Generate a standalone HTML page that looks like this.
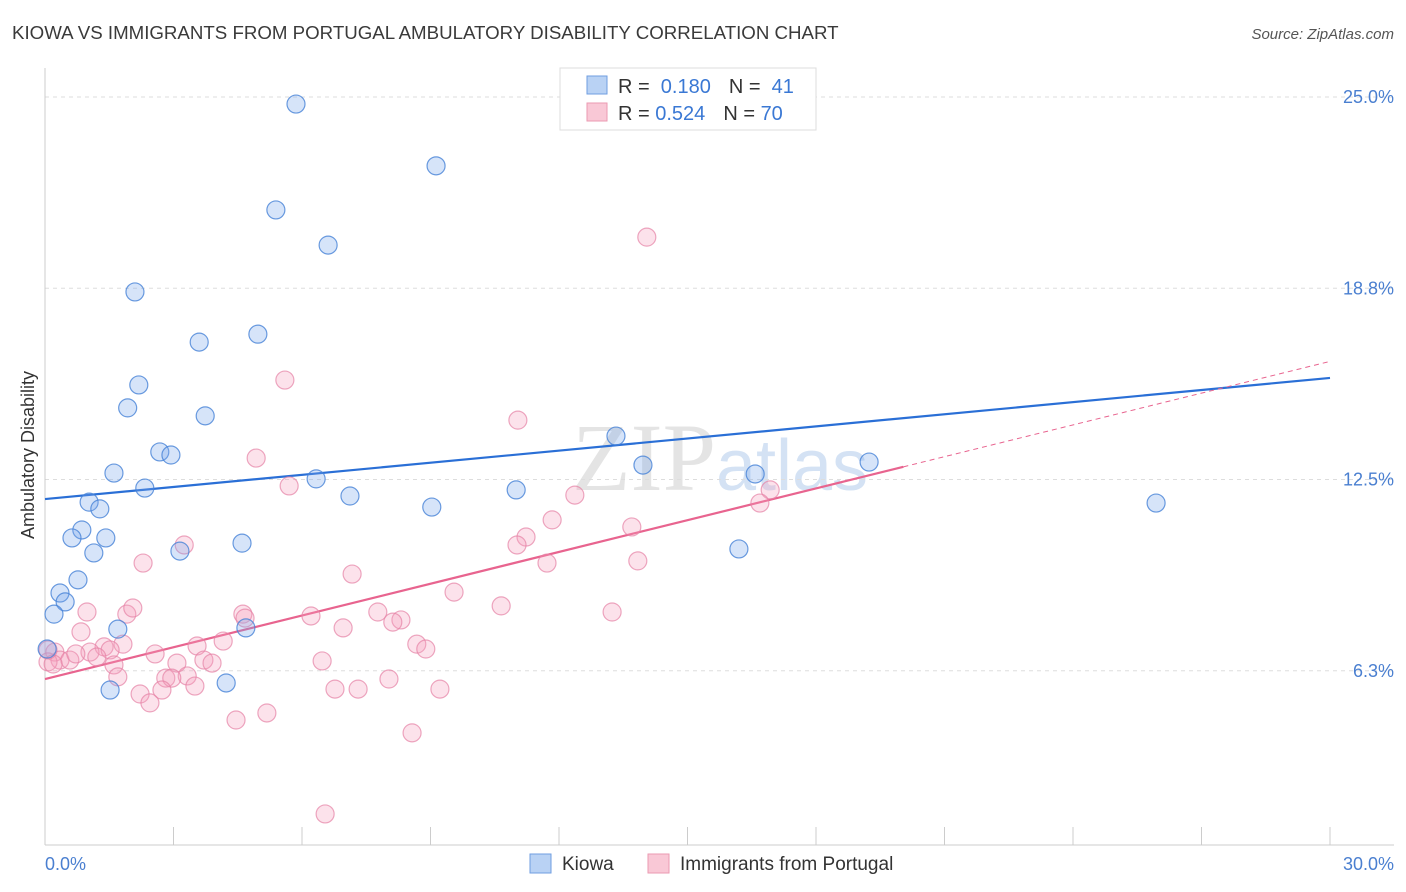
<!DOCTYPE html>
<html><head><meta charset="utf-8"><style>
body{margin:0;background:#fff;font-family:"Liberation Sans",sans-serif}
svg{display:block}
</style></head><body>
<svg id="chart" width="1406" height="892">
<text x="12" y="39" font-size="18.7" fill="#3a3a3a">KIOWA VS IMMIGRANTS FROM PORTUGAL AMBULATORY DISABILITY CORRELATION CHART</text>
<text x="1394" y="39" font-size="15" fill="#555" font-style="italic" text-anchor="end">Source: ZipAtlas.com</text>
<text x="720" y="490" font-size="96" fill="#e4e4e4" text-anchor="middle" font-family="Liberation Serif,serif">ZIP<tspan fill="#d4e2f4" font-family="Liberation Sans,sans-serif" font-size="72">atlas</tspan></text>
<g id="grid"></g><g id="axes"></g><g id="trend"></g><g id="pts"></g>
<text x="34" y="455" font-size="18" fill="#333" text-anchor="middle" transform="rotate(-90 34 455)">Ambulatory Disability</text>
<text x="45" y="870" font-size="18" fill="#4a7fd0">0.0%</text>
<text x="1394" y="870" font-size="18" fill="#4a7fd0" text-anchor="end">30.0%</text>
<g>
<rect x="560" y="68" width="256" height="62" fill="#fff" stroke="#ddd"/>
<rect x="587" y="76" width="20" height="18" fill="#b9d2f4" stroke="#6f9ee0"/>
<rect x="587" y="103" width="20" height="18" fill="#f9c8d6" stroke="#eb9ab2"/>
<text x="618" y="93" font-size="20" fill="#333">R = <tspan fill="#3a78d4">&#160;0.180</tspan><tspan dx="18">N = </tspan><tspan fill="#3a78d4">&#160;41</tspan></text>
<text x="618" y="120" font-size="20" fill="#333">R = <tspan fill="#3a78d4">0.524</tspan><tspan dx="18">N = </tspan><tspan fill="#3a78d4">70</tspan></text>
</g>
<g>
<rect x="530" y="854" width="21" height="19" fill="#b9d2f4" stroke="#6f9ee0"/>
<text x="562" y="870" font-size="19" fill="#333">Kiowa</text>
<rect x="648" y="854" width="21" height="19" fill="#f9c8d6" stroke="#eb9ab2"/>
<text x="680" y="870" font-size="19" fill="#333">Immigrants from Portugal</text>
</g>
</svg>
<script>
const yTicks=[25.0,18.75,12.5,6.25];
const yTickLabels=["25.0%","18.8%","12.5%","6.3%"];
const xTicks=[0,3,6,9,12,15,18,21,24,27,30];
const kiowaX=[5.86,9.13,5.39,6.61,2.10,3.60,4.97,2.19,1.93,3.74,13.33,2.68,2.94,13.96,19.24,1.61,16.58,6.33,2.33,11.00,7.12,1.03,1.28,9.03,25.94,0.86,0.63,1.42,4.60,1.14,3.15,16.20,0.77,0.35,0.47,0.21,1.70,4.69,0.05,4.23,1.52];
const kiowaY=[24.77,22.75,21.31,20.16,18.63,16.99,17.25,15.59,14.84,14.58,13.92,13.40,13.30,12.97,13.07,12.71,12.68,12.52,12.22,12.16,11.96,11.76,11.54,11.60,11.73,10.85,10.59,10.59,10.42,10.10,10.16,10.23,9.22,8.79,8.50,8.10,7.61,7.65,6.96,5.85,5.62];
const portX=[14.05,5.60,11.04,4.93,5.70,12.37,16.93,16.69,11.84,13.70,11.23,11.02,3.25,2.29,11.72,13.84,7.17,9.55,10.65,13.24,0.98,1.91,2.05,4.62,4.67,6.21,7.77,8.31,8.12,6.96,0.84,1.82,1.38,4.16,3.55,8.68,8.89,0.23,1.05,1.52,2.57,0.35,0.58,0.72,1.21,3.71,3.90,3.08,6.47,1.61,0.07,0.19,1.70,3.32,2.82,2.96,3.50,2.73,2.22,6.77,7.31,8.03,9.22,2.45,4.46,5.18,8.57,6.54,0.07];
const portY=[20.42,15.75,14.44,13.20,12.29,11.99,12.16,11.73,11.18,10.95,10.62,10.36,10.36,9.77,9.77,9.84,9.41,8.82,8.37,8.17,8.17,8.10,8.30,8.10,7.97,8.04,8.17,7.91,7.84,7.65,7.52,7.12,7.03,7.22,7.06,7.12,6.96,6.86,6.86,6.93,6.80,6.60,6.60,6.80,6.70,6.60,6.50,6.50,6.57,6.44,6.54,6.47,6.05,6.08,6.01,6.01,5.75,5.62,5.49,5.65,5.65,5.98,5.65,5.20,4.64,4.87,4.22,1.57,6.93];
const kiowaTrend=[11.86,15.82];
const portTrend=[5.98,16.36];
const portSolidEnd=20.04;
const NS="http://www.w3.org/2000/svg";
const X=v=>45+v/30*1285;
const Y=v=>862-v*30.6;
function mk(tag,attrs,parent){const e=document.createElementNS(NS,tag);for(const k in attrs)e.setAttribute(k,attrs[k]);parent.appendChild(e);return e;}
const grid=document.getElementById('grid'),axes=document.getElementById('axes'),trend=document.getElementById('trend'),pts=document.getElementById('pts');
yTicks.forEach((t,i)=>{
 const l=mk('line',{x1:45,x2:1394,y1:Y(t),y2:Y(t),stroke:'#ddd','stroke-dasharray':'4,4'},grid);
 
 
 const tx=mk('text',{x:1394,y:Y(t)+6,'font-size':18,fill:'#4a7fd0','text-anchor':'end'},grid);
 tx.textContent=yTickLabels[i];
 
 
});
const ax=mk('line',{x1:45,x2:45,y1:68,y2:845,stroke:'#ccc'},axes);


const bx=mk('line',{x1:45,x2:1394,y1:845,y2:845,stroke:'#ccc'},axes);


xTicks.forEach(t=>{
 const l=mk('line',{x1:X(t),x2:X(t),y1:827,y2:845,stroke:'#ccc'},axes);
 
 
});
function dot(x,y,fill,stroke,name){
 const c=mk('circle',{cx:X(x),cy:Y(y),r:9,fill:fill,stroke:stroke,'stroke-width':1.2},pts);
 
 
}
portX.forEach((x,i)=>dot(x,portY[i],'rgba(245,160,190,0.3)','rgba(230,130,165,0.7)','portugal-point'));
kiowaX.forEach((x,i)=>dot(x,kiowaY[i],'rgba(120,165,235,0.3)','rgba(70,130,215,0.8)','kiowa-point'));
const kt=mk('line',{x1:X(0),y1:Y(kiowaTrend[0]),x2:X(30),y2:Y(kiowaTrend[1]),stroke:'#2a6fd6','stroke-width':2.2},trend);


const slope=(portTrend[1]-portTrend[0])/30;
const pt=mk('line',{x1:X(0),y1:Y(portTrend[0]),x2:X(portSolidEnd),y2:Y(portTrend[0]+slope*portSolidEnd),stroke:'#e8648f','stroke-width':2.2},trend);


const pd=mk('line',{x1:X(portSolidEnd),y1:Y(portTrend[0]+slope*portSolidEnd),x2:X(30),y2:Y(portTrend[1]),stroke:'#e8648f','stroke-width':1,'stroke-dasharray':'5,4'},trend);


</script>
</body></html>
